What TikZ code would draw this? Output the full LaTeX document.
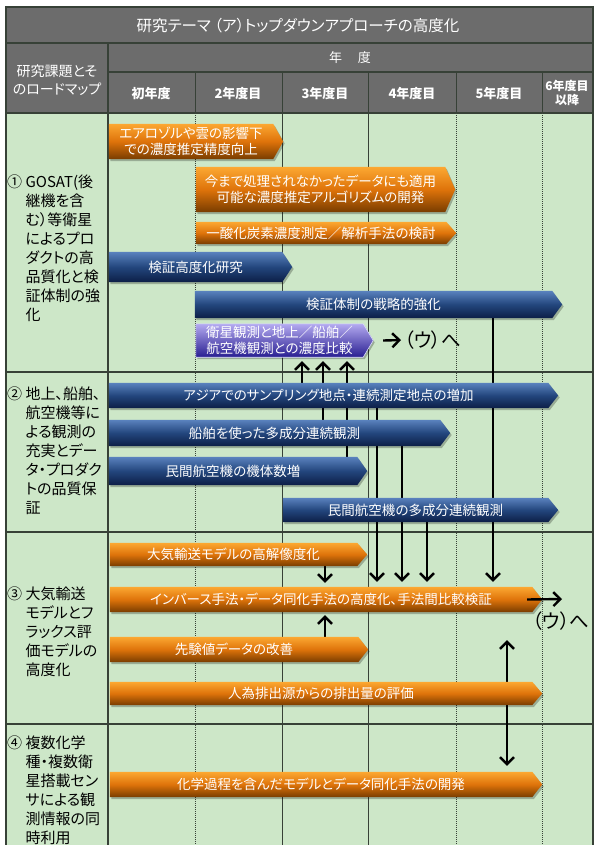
\documentclass[tikz,border=0pt]{standalone}
\usepackage{fontspec}
\setmainfont{Noto Sans CJK JP}[RawFeature={+palt}]
\usetikzlibrary{calc,arrows.meta}
\pgfdeclarelayer{bg}
\pgfdeclarelayer{lines}
\pgfdeclarelayer{boxes}
\pgfsetlayers{bg,lines,boxes,main}

\definecolor{hdr}{RGB}{108,108,108}
\definecolor{bodyg}{RGB}{205,231,200}
\definecolor{gridc}{RGB}{55,65,55}
\definecolor{orT}{RGB}{252,168,50}
\definecolor{orM}{RGB}{222,115,10}
\definecolor{orB}{RGB}{120,60,0}
\definecolor{blT}{RGB}{90,130,190}
\definecolor{blM}{RGB}{35,70,125}
\definecolor{blB}{RGB}{12,30,70}
\definecolor{puT}{RGB}{180,170,240}
\definecolor{puB}{RGB}{40,30,145}

\tikzset{
  boxtext/.style={inner sep=0pt, text=white, align=center, font=\fontsize{13.5}{15.5}\selectfont},
  orangebox/.style={top color=orT, bottom color=orB, middle color=orM},
  bluebox/.style={top color=blT, bottom color=blB, middle color=blM},
  purplebox/.style={top color=puT, bottom color=puB, draw=white!85!blue, line width=0.6pt},
  hdrtext/.style={text=white, inner sep=0pt, align=center},
  lbl/.style={inner sep=0pt, font=\fontsize{15}{19}\selectfont, text=black},
  arr/.style={line width=2.4pt, -{Straight Barb[length=7pt,width=14pt]}},
  dblarr/.style={line width=2.4pt, {Straight Barb[length=7pt,width=14pt]}-{Straight Barb[length=7pt,width=14pt]}},
  hline/.style={draw=gridc, line width=1.4pt},
  vsolid/.style={draw=gridc, line width=0.7pt},
  vdot/.style={draw=gridc, line width=0.6pt, dash pattern=on 1pt off 1pt},
  utext/.style={inner sep=0pt, font=\fontsize{19.5}{22}\selectfont, text=black}
}

\newcommand\abox[7]{% name, style, x1, y1, xtip, y2, text
  \pgfmathsetmacro\bw{#5-10-#3}%
  \pgfmathsetmacro\bh{#6-#4}%
  \node[boxtext, minimum width=\bw pt, minimum height=\bh pt] (#1) at ({(#3+#5-10)/2},{(#4+#6)/2}) {#7};
  \begin{pgfonlayer}{boxes}
    \path[fill=black, opacity=0.25] ([shift={(1.5,2)}]#1.north west) -- ([shift={(1.5,2)}]#1.north east) -- ([shift={(11.5,2)}]#1.east) -- ([shift={(1.5,2)}]#1.south east) -- ([shift={(1.5,2)}]#1.south west) -- cycle;
    \path[#2] (#1.north west) -- (#1.north east) -- ([xshift=10pt]#1.east) -- (#1.south east) -- (#1.south west) -- cycle;
  \end{pgfonlayer}
}

\begin{document}
\begin{tikzpicture}[x=1pt,y=-1pt]
\useasboundingbox (0,0) rectangle (595,845);

% ---------- background grid ----------
\begin{pgfonlayer}{bg}
  \fill[hdr] (6,7) rectangle (593,113);
  \fill[bodyg] (6,113) rectangle (593,845);
  % body column lines
  \draw[vdot] (195,113) -- (195,845);
  \draw[vsolid] (282,113) -- (282,845);
  \draw[vsolid] (368,113) -- (368,845);
  \draw[vdot] (456,113) -- (456,845);
  \draw[vdot] (542,113) -- (542,845);
  % header column lines
  \foreach \xx in {195,282,368,456,542} \draw[vsolid, line width=1pt] (\xx,72) -- (\xx,113);
  % header horizontal lines
  \draw[hline] (6,43) -- (593,43);
  \draw[hline] (108,72) -- (593,72);
  \draw[hline] (6,113) -- (593,113);
  % section separators
  \draw[hline] (6,372) -- (593,372);
  \draw[hline] (6,532) -- (593,532);
  \draw[hline] (6,724) -- (593,724);
  % label column border and outer border
  \draw[hline] (108,43) -- (108,845);
  \draw[draw=gridc, line width=2pt] (6,845) -- (6,7) -- (593,7) -- (593,845);
\end{pgfonlayer}

% ---------- header texts ----------
\node[hdrtext, font=\fontsize{15.5}{18}\selectfont] (title) at (298,26) {研究テーマ （ア）トップダウンアプローチの高度化};
\node[hdrtext, font=\fontsize{13}{16}\selectfont] (nendo) at (350,58) {年\hspace{1.2em}度};
\node[hdrtext, font=\fontsize{14}{18}\selectfont] (kadai) at (57,80) {研究課題とそ\\のロードマップ};
\node[hdrtext, font=\bfseries\fontsize{13}{16}\selectfont] (y1) at (151,94) {初年度};
\node[hdrtext, font=\bfseries\fontsize{13}{16}\selectfont] (y2) at (238,94) {2年度目};
\node[hdrtext, font=\bfseries\fontsize{13}{16}\selectfont] (y3) at (325,94) {3年度目};
\node[hdrtext, font=\bfseries\fontsize{13}{16}\selectfont] (y4) at (412,94) {4年度目};
\node[hdrtext, font=\bfseries\fontsize{13}{16}\selectfont] (y5) at (499,94) {5年度目};
\node[hdrtext, font=\bfseries\fontsize{12}{14}\selectfont] (y6) at (567,93) {6年度目\\以降};

% ---------- row labels ----------
\node[lbl, anchor=base west] (L1) at (7,187) {①~\begin{tabular}[t]{@{}l@{}}GOSAT(後\\継機を含\\む）等衛星\\によるプロ\\ダクトの高\\品質化と検\\証体制の強\\化\end{tabular}};
\node[lbl, anchor=base west] (L2) at (7,399) {②~\begin{tabular}[t]{@{}l@{}}地上、船舶、\\航空機等に\\よる観測の\\充実とデー\\タ・プロダク\\トの品質保\\証\end{tabular}};
\node[lbl, anchor=base west] (L3) at (7,599) {③~\begin{tabular}[t]{@{}l@{}}大気輸送\\モデルとフ\\ラックス評\\価モデルの\\高度化\end{tabular}};
\node[lbl, anchor=base west] (L4) at (7,748) {④~\begin{tabular}[t]{@{}l@{}}複数化学\\種・複数衛\\星搭載セン\\サによる観\\測情報の同\\時利用\end{tabular}};

% ---------- section 1 boxes ----------
\abox{o1}{orangebox}{109}{124}{283}{159}{エアロゾルや雲の影響下\\での濃度推定精度向上}
\abox{o2}{orangebox}{196}{167}{455}{212}{今まで処理されなかったデータにも適用\\可能な濃度推定アルゴリズムの開発}
\abox{o3}{orangebox}{196}{222}{456}{244}{一酸化炭素濃度測定／解析手法の検討}
\abox{b1}{bluebox}{109}{252}{292}{282}{検証高度化研究}
\abox{b2}{bluebox}{195}{291}{562}{318}{検証体制の戦略的強化}
\abox{p}{purplebox}{196}{324}{373}{357}{衛星観測と地上／船舶／\\航空機観測との濃度比較}

% ---------- section 2 boxes ----------
\abox{a1}{bluebox}{109}{383}{558}{408}{アジアでのサンプリング地点・連続測定地点の増加}
\abox{a2}{bluebox}{109}{420}{450}{446}{船舶を使った多成分連続観測}
\abox{a3}{bluebox}{109}{457}{367}{485}{民間航空機の機体数増}
\abox{a4}{bluebox}{283}{498}{558}{522}{民間航空機の多成分連続観測}

% ---------- section 3 boxes ----------
\abox{t1}{orangebox}{110}{543}{367}{566}{大気輸送モデルの高解像度化}
\abox{inv}{orangebox}{110}{587}{542}{612}{インバース手法・データ同化手法の高度化、手法間比較検証}
\abox{s1}{orangebox}{110}{637}{368}{662}{先験値データの改善}
\abox{h1}{orangebox}{110}{682}{542}{705}{人為排出源からの排出量の評価}

% ---------- section 4 box ----------
\abox{ch}{orangebox}{110}{772}{542}{797}{化学過程を含んだモデルとデータ同化手法の開発}

% ---------- (ウ)へ labels ----------
\node[utext, anchor=west] (u1) at (404,340) {（ウ）へ};
\node[utext] (u2) at (561,621) {（ウ）へ};
\coordinate (r2) at (562,599);

% ---------- connectors ----------
\coordinate (x302) at (302,0);
\coordinate (x323) at (323,0);
\coordinate (x347) at (347,0);
\coordinate (x377) at (377,0);
\coordinate (x402) at (402,0);
\coordinate (x427) at (427,0);
\coordinate (x493) at (493,0);
\coordinate (x325) at (325,0);
\coordinate (x507) at (507,0);

\begin{pgfonlayer}{lines}
  \draw[arr, shorten >=4pt] (a1.north -| x302) -- (p.south -| x302);
  \draw[arr, shorten >=4pt] (a2.north -| x323) -- (p.south -| x323);
  \draw[arr, shorten >=4pt] (a3.north -| x347) -- (p.south -| x347);
  \draw[arr, shorten >=5pt] (a1.south -| x377) -- (inv.north -| x377);
  \draw[arr, shorten >=5pt] (a2.south -| x402) -- (inv.north -| x402);
  \draw[arr, shorten >=5pt] (a4.south -| x427) -- (inv.north -| x427);
  \draw[arr, shorten >=5pt] (b2.south -| x493) -- (inv.north -| x493);
  \draw[arr, shorten >=4pt] (t1.south -| x325) -- (inv.north -| x325);
  \draw[arr, shorten >=3pt] (s1.north -| x325) -- (inv.south -| x325);
  \draw[dblarr, shorten <=28pt, shorten >=6pt] (inv.south -| x507) -- (ch.north -| x507);
\end{pgfonlayer}

\draw[arr, shorten >=3pt] ([xshift=20pt]p.east) -- (u1.west);
\draw[arr] ([xshift=-5pt]inv.east) -- (r2);

\end{tikzpicture}
\end{document}
